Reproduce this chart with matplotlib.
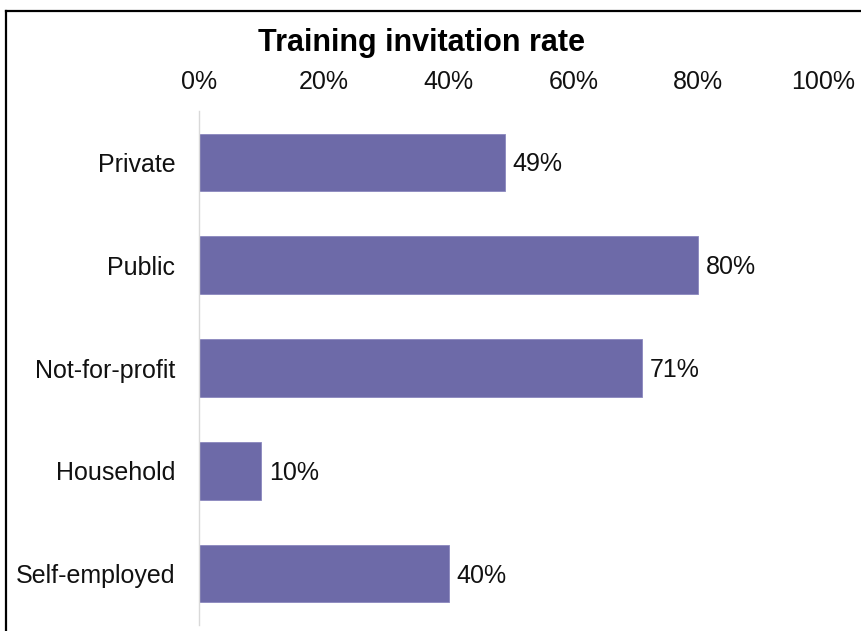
import matplotlib.pyplot as plt
from matplotlib.lines import Line2D
from matplotlib.ticker import FuncFormatter

# data
categories = ["Private", "Public", "Not-for-profit", "Household", "Self-employed"]
rates = [49, 80, 71, 10, 40]
x_ticks = [0, 20, 40, 60, 80, 100]

plt.rcParams['font.family'] = ['Liberation Sans', 'DejaVu Sans']

fig = plt.figure(figsize=(8.61, 6.31), dpi=100)
ax = fig.add_axes([199 / 861, 1 - 625 / 631, 624 / 861, 514 / 631])

ypos = list(range(len(categories)))
ax.barh(ypos, rates, height=0.56, color="#6D6AA8", edgecolor="#8A87BE", linewidth=0.6)

for y, v in zip(ypos, rates):
    ax.text(v + 1.2, y + 0.02, f"{v}%", va="center", ha="left", fontsize=18, color="#111111")

ax.set_xlim(0, 100)
ax.set_ylim(len(categories) - 0.5, -0.5)
ax.set_yticks(ypos)
ax.set_yticklabels(categories, fontsize=18)
ax.set_xticks(x_ticks)
ax.xaxis.set_major_formatter(FuncFormatter(lambda v, p: f"{v:.0f}%"))
ax.xaxis.tick_top()
ax.tick_params(axis="x", length=0, pad=12, labelsize=18, colors="#111111")
ax.tick_params(axis="y", length=0, pad=17, colors="#111111")

for s in ["top", "right", "bottom"]:
    ax.spines[s].set_visible(False)
ax.spines["left"].set_color("#D9D9D9")
ax.spines["left"].set_linewidth(1.0)

fig.text(422 / 861, 1 - 43 / 631, "Training invitation rate", ha="center", va="center",
         fontsize=22, fontweight="bold")

# frame around the chart (left and top edges visible)
fig.add_artist(Line2D([5.5 / 861, 5.5 / 861], [0, 1 - 11 / 631], color="black", lw=1.6,
                      transform=fig.transFigure))
fig.add_artist(Line2D([5.5 / 861, 1], [1 - 11 / 631, 1 - 11 / 631], color="black", lw=1.6,
                      transform=fig.transFigure))

fig.savefig("out.png", dpi=100)
